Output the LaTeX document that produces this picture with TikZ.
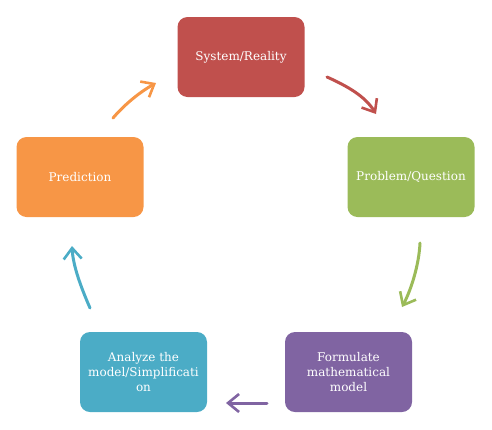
\documentclass[tikz,border=0pt]{standalone}
\usepackage{fontspec}
\setmainfont{DejaVu Serif}
\usetikzlibrary{arrows.meta}
\definecolor{cred}{HTML}{C0504D}
\definecolor{cgreen}{HTML}{9BBB59}
\definecolor{cpurple}{HTML}{8064A2}
\definecolor{cteal}{HTML}{4BACC6}
\definecolor{corange}{HTML}{F79646}
\tikzset{
  stagebox/.style={rounded corners=10pt, minimum width=127pt, minimum height=80pt,
    text=white, align=center, font=\fontsize{12}{15}\selectfont, inner sep=2pt},
  cyclearrow/.style={line width=3pt, line cap=round,
    -{Straight Barb[length=11pt,width=18pt,line width=2.6pt]}}
}
\begin{document}
\begin{tikzpicture}[x=1pt,y=-1pt]
\useasboundingbox (0,0) rectangle (492,429);
\node[stagebox, fill=cred] (sys) at (241,57) {System/Reality};
\node[stagebox, fill=cgreen] (prob) at (411,177) {Problem/Question};
\node[stagebox, fill=cpurple] (form) at (348.5,372) {Formulate\\mathematical\\model};
\node[stagebox, fill=cteal] (anal) at (143.5,372) {Analyze the\\model/Simplificati\\on};
\node[stagebox, fill=corange] (pred) at (80,177) {Prediction};
\coordinate (r1) at (327,77); \coordinate (r2) at (376,114);
\coordinate (g1) at (420,243); \coordinate (g2) at (402,307);
\coordinate (p1) at (267,403); \coordinate (p2) at (226,403);
\coordinate (t1) at (90,308); \coordinate (t2) at (72,246);
\coordinate (o1) at (113,118); \coordinate (o2) at (156,83);
\draw[cyclearrow, draw=cred] (r1) .. controls (347,86) and (365,96) .. (r2);
\draw[cyclearrow, draw=cgreen] (g1) .. controls (419,265) and (411,290) .. (g2);
\draw[cyclearrow, draw=cpurple] (p1) -- (p2);
\draw[cyclearrow, draw=cteal] (t1) .. controls (80,285) and (73,265) .. (t2);
\draw[cyclearrow, draw=corange] (o1) .. controls (125,104) and (140,92) .. (o2);
\end{tikzpicture}
\end{document}
